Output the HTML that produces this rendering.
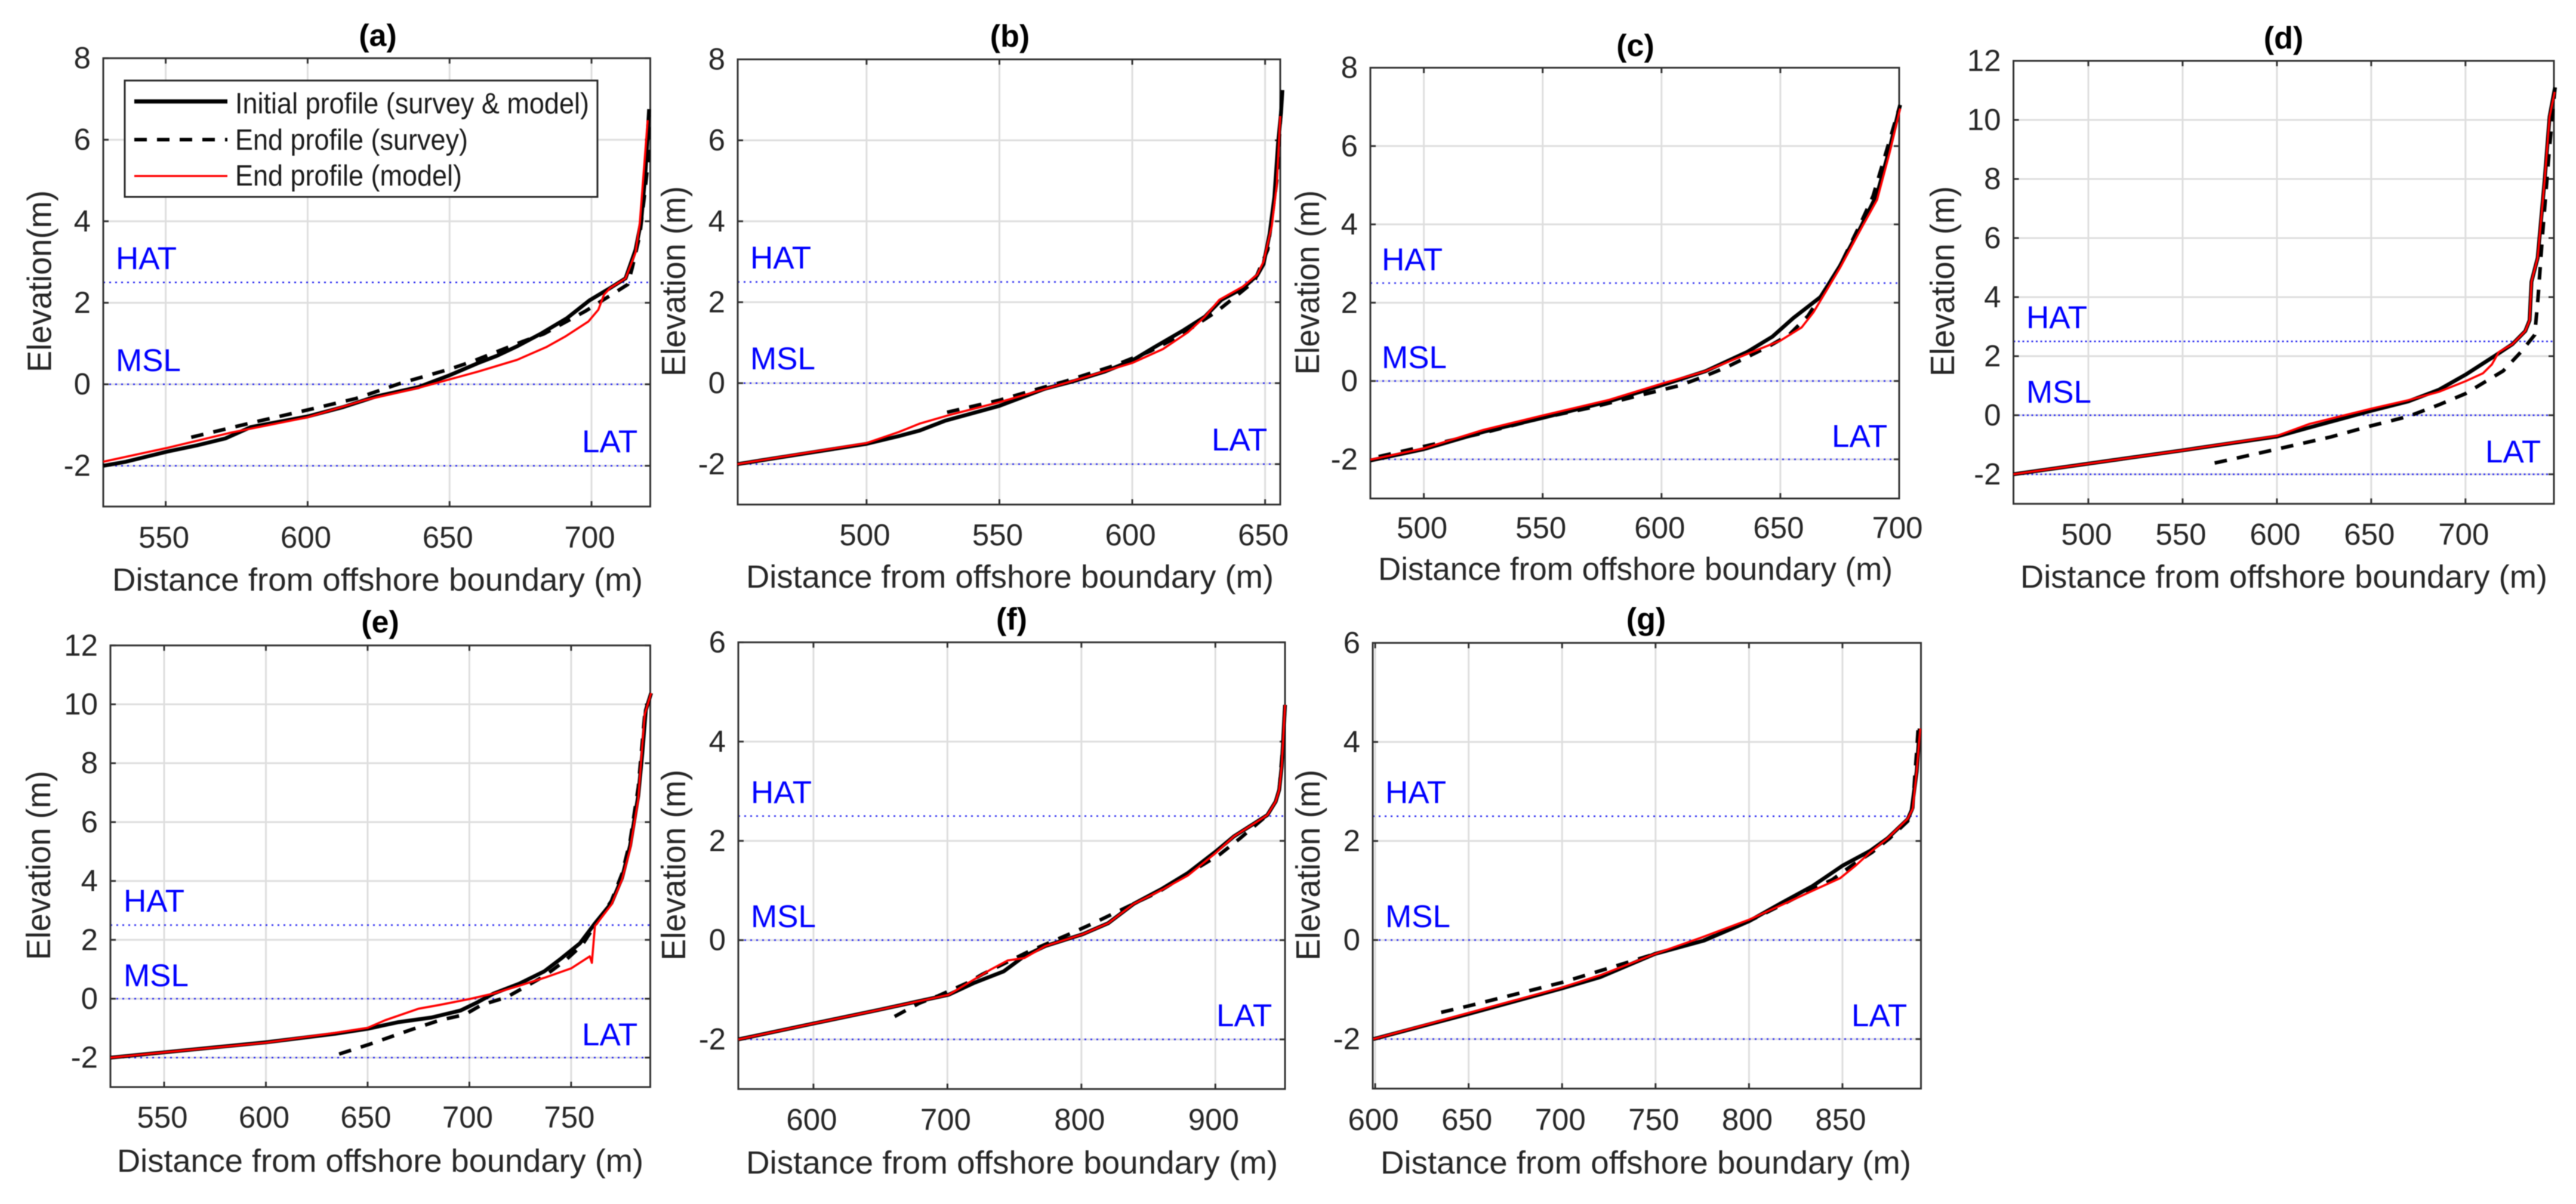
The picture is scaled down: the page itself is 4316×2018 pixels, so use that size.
<!DOCTYPE html>
<html lang="en">
<head>
<meta charset="utf-8">
<title>Beach profile comparison panels</title>
<style>
html,body{margin:0;padding:0;background:#fff;}
svg{display:block;filter:blur(0.8px);}
text{font-family:"Liberation Sans",Arial,sans-serif;fill:#262626;}
.title{font-size:52px;font-weight:bold;text-anchor:middle;fill:#000;}
.xlab{font-size:54px;}
.ylab{font-size:57px;}
.tide{font-size:53px;fill:#0000ff;}
.leg{font-size:49px;fill:#1a1a1a;}
.tick{font-size:51px;}
</style>
</head>
<body>
<svg xmlns="http://www.w3.org/2000/svg" width="4316" height="2018" viewBox="0 0 4316 2018">
<rect x="0" y="0" width="4316" height="2018" fill="#fff"/>
<g id="marks"></g>

<g>
<text class="title" x="633" y="77">(a)</text>
<text class="xlab" x="188" y="990" textLength="889" lengthAdjust="spacingAndGlyphs">Distance from offshore boundary (m)</text>
<text class="ylab" transform="translate(85.6,624) rotate(-90)" textLength="305" lengthAdjust="spacingAndGlyphs">Elevation(m)</text>
<text class="tide" x="194" y="451">HAT</text>
<text class="tide" x="194" y="622">MSL</text>
<text class="tide" x="975" y="758">LAT</text>
</g>
<g>
<text class="title" x="1692" y="78">(b)</text>
<text class="xlab" x="1250" y="985" textLength="884" lengthAdjust="spacingAndGlyphs">Distance from offshore boundary (m)</text>
<text class="ylab" transform="translate(1148,631) rotate(-90)" textLength="319" lengthAdjust="spacingAndGlyphs">Elevation (m)</text>
<text class="tide" x="1257" y="450">HAT</text>
<text class="tide" x="1257" y="619">MSL</text>
<text class="tide" x="2030" y="755">LAT</text>
</g>
<g>
<text class="title" x="2740" y="94">(c)</text>
<text class="xlab" x="2309" y="972" textLength="862" lengthAdjust="spacingAndGlyphs">Distance from offshore boundary (m)</text>
<text class="ylab" transform="translate(2210,628) rotate(-90)" textLength="309" lengthAdjust="spacingAndGlyphs">Elevation (m)</text>
<text class="tide" x="2315" y="453">HAT</text>
<text class="tide" x="2315" y="617">MSL</text>
<text class="tide" x="3069" y="749">LAT</text>
</g>
<g>
<text class="title" x="3826" y="81">(d)</text>
<text class="xlab" x="3385" y="985" textLength="883" lengthAdjust="spacingAndGlyphs">Distance from offshore boundary (m)</text>
<text class="ylab" transform="translate(3274,631) rotate(-90)" textLength="319" lengthAdjust="spacingAndGlyphs">Elevation (m)</text>
<text class="tide" x="3395" y="550">HAT</text>
<text class="tide" x="3395" y="675">MSL</text>
<text class="tide" x="4164" y="775">LAT</text>
</g>
<g>
<text class="title" x="637" y="1060">(e)</text>
<text class="xlab" x="196" y="1964" textLength="882" lengthAdjust="spacingAndGlyphs">Distance from offshore boundary (m)</text>
<text class="ylab" transform="translate(84,1609) rotate(-90)" textLength="317" lengthAdjust="spacingAndGlyphs">Elevation (m)</text>
<text class="tide" x="207" y="1528">HAT</text>
<text class="tide" x="207" y="1653">MSL</text>
<text class="tide" x="975" y="1752">LAT</text>
</g>
<g>
<text class="title" x="1695" y="1055">(f)</text>
<text class="xlab" x="1250" y="1967" textLength="891" lengthAdjust="spacingAndGlyphs">Distance from offshore boundary (m)</text>
<text class="ylab" transform="translate(1148,1610) rotate(-90)" textLength="320" lengthAdjust="spacingAndGlyphs">Elevation (m)</text>
<text class="tide" x="1258" y="1346">HAT</text>
<text class="tide" x="1258" y="1554">MSL</text>
<text class="tide" x="2038" y="1720">LAT</text>
</g>
<g>
<text class="title" x="2758" y="1055">(g)</text>
<text class="xlab" x="2313" y="1967" textLength="889" lengthAdjust="spacingAndGlyphs">Distance from offshore boundary (m)</text>
<text class="ylab" transform="translate(2211,1610) rotate(-90)" textLength="320" lengthAdjust="spacingAndGlyphs">Elevation (m)</text>
<text class="tide" x="2321" y="1346">HAT</text>
<text class="tide" x="2321" y="1554">MSL</text>
<text class="tide" x="3102" y="1720">LAT</text>
</g>

<g>
<rect x="209" y="135" width="792" height="195" fill="#fff" stroke="#262626" stroke-width="3"/>
<line x1="225" y1="170" x2="381" y2="170" stroke="#000" stroke-width="7"/>
<text class="leg" x="394" y="190" textLength="593" lengthAdjust="spacingAndGlyphs">Initial profile (survey &amp; model)</text>
<line x1="225" y1="234" x2="381" y2="234" stroke="#000" stroke-width="6" stroke-dasharray="21 17"/>
<text class="leg" x="394" y="251" textLength="390" lengthAdjust="spacingAndGlyphs">End profile (survey)</text>
<line x1="225" y1="295" x2="381" y2="295" stroke="#ff0000" stroke-width="3.5"/>
<text class="leg" x="394" y="311" textLength="380" lengthAdjust="spacingAndGlyphs">End profile (model)</text>
</g>
</svg>

<script>
// ---- shared tide levels (m) ----
const tideLevels = [2.5, 0, -2];

// ---- tick values ----
const aXTicks = [550, 600, 650, 700];
const bXTicks = [500, 550, 600, 650];
const cXTicks = [500, 550, 600, 650, 700];
const dXTicks = [500, 550, 600, 650, 700];
const eXTicks = [550, 600, 650, 700, 750];
const fXTicks = [600, 700, 800, 900];
const gXTicks = [600, 650, 700, 750, 800, 850];
const yTicksTo8 = [-2, 0, 2, 4, 6, 8];
const yTicksTo12 = [-2, 0, 2, 4, 6, 8, 10, 12];
const yTicksTo6 = [-2, 0, 2, 4, 6];

// ---- panel a ----
const aInitialX = [528, 536, 550.6, 561, 571, 580, 600, 612.5, 624, 639, 650, 660, 666.7, 674, 682.4, 691.3, 699.3, 706.5, 712, 715.5, 717.5, 719, 720.3];
const aInitialY = [-2, -1.9, -1.65, -1.5, -1.33, -1.05, -0.79, -0.56, -0.3, -0.07, 0.22, 0.52, 0.7, 0.94, 1.25, 1.62, 2.06, 2.36, 2.6, 3.3, 4, 5.2, 6.75];
const aSurveyX = [559, 583, 600, 617, 633, 650, 658, 675.8, 683.3, 698, 705.5, 712.8, 714.4, 717, 718.6, 720, 720.3];
const aSurveyY = [-1.3, -0.9, -0.63, -0.35, 0.03, 0.37, 0.56, 1.05, 1.24, 1.8, 2.13, 2.45, 2.87, 3.66, 4.6, 5.5, 6.6];
const aModelX = [528, 550.6, 572.7, 600, 620, 639, 650, 660, 673.8, 684, 690.7, 698.9, 702.4, 704.4, 706.5, 712, 715.5, 717, 718.4, 719.8];
const aModelY = [-1.9, -1.56, -1.19, -0.81, -0.39, -0.09, 0.12, 0.31, 0.6, 0.91, 1.17, 1.54, 1.83, 2.2, 2.36, 2.6, 3.23, 3.95, 5.22, 6.48];

// ---- panel b ----
const bInitialX = [451.4, 472.7, 500, 512, 520, 529.5, 550, 567, 578, 589.4, 600, 608.4, 619.4, 627.3, 633.6, 641.5, 647, 649.4, 651.7, 653.5, 654.9, 656, 656.5];
const bInitialY = [-2, -1.78, -1.5, -1.31, -1.17, -0.93, -0.56, -0.14, 0.05, 0.28, 0.56, 0.89, 1.31, 1.64, 2.06, 2.34, 2.66, 2.94, 3.69, 4.6, 5.93, 6.68, 7.24];
const bSurveyX = [530.3, 550, 565.8, 575, 592.6, 606.8, 617.8, 632, 640, 646, 651, 654.4, 655.4, 656.5];
const bSurveyY = [-0.72, -0.42, -0.12, 0.05, 0.42, 0.79, 1.17, 1.78, 2.2, 2.52, 3.3, 5, 6.12, 7.24];
const bModelX = [451.4, 472.7, 500, 512, 520, 531, 550, 567.4, 578.4, 600, 611.5, 621, 627.3, 632.8, 641.5, 647, 649.4, 652.5, 654.4, 655.7];
const bModelY = [-2, -1.77, -1.48, -1.21, -1, -0.79, -0.47, -0.14, 0.07, 0.5, 0.84, 1.26, 1.64, 2.06, 2.38, 2.68, 3, 3.88, 4.9, 6.6];

// ---- panel c ----
const cInitialX = [477.5, 500, 525, 550, 578, 600, 618.5, 636, 646.6, 655.5, 667, 675, 683.6, 690.7, 696, 700.4];
const cInitialY = [-2.03, -1.74, -1.3, -0.94, -0.52, -0.11, 0.25, 0.74, 1.13, 1.61, 2.15, 2.93, 3.9, 4.77, 5.94, 7.05];
const cSurveyX = [481, 502.3, 523.4, 550, 571, 590, 608, 617.6, 627.3, 645, 653.7, 661.6, 667.8, 675, 683.6, 689, 694, 700.4];
const cSurveyY = [-1.93, -1.64, -1.35, -0.94, -0.67, -0.38, -0.11, 0.11, 0.35, 0.88, 1.18, 1.66, 2.24, 2.93, 4, 4.72, 5.74, 7.05];
const cModelX = [477.5, 500, 525, 550, 578, 600, 618.5, 636, 650, 659, 664, 668.7, 675, 683.6, 690.7, 696, 700.4];
const cModelY = [-2.01, -1.72, -1.25, -0.88, -0.48, -0.07, 0.25, 0.69, 1.03, 1.37, 1.76, 2.24, 2.88, 3.85, 4.63, 5.84, 6.96];

// ---- panel d ----
const dInitialX = [460.3, 500, 550, 600, 617, 650, 669.7, 685.8, 700, 715.6, 724.8, 731.7, 734, 735, 738.3, 742, 744.6, 747.5];
const dInitialY = [-2, -1.64, -1.19, -0.72, -0.42, 0.15, 0.47, 0.86, 1.37, 2.01, 2.4, 2.85, 3.21, 4.52, 5.33, 7.97, 10.1, 11.1];
const dSurveyX = [567, 600, 628.4, 650, 669.7, 685.8, 700, 720, 729.4, 736.7, 738.5, 740.8, 744.3, 747.5];
const dSurveyY = [-1.62, -1.15, -0.74, -0.36, -0.04, 0.35, 0.73, 1.5, 2.14, 2.72, 4, 6.05, 8.87, 11.1];
const dModelX = [460.3, 500, 550, 600, 617, 650, 669.7, 685.8, 700, 709.3, 714, 717.7, 724.8, 731.7, 734, 735, 738.3, 742, 744.6, 747.3];
const dModelY = [-2, -1.64, -1.19, -0.7, -0.3, 0.22, 0.51, 0.79, 1.15, 1.42, 1.72, 2.14, 2.4, 2.85, 3.21, 4.52, 5.33, 7.97, 10.1, 10.95];

// ---- panel e ----
const eInitialX = [523.7, 550, 600, 634, 650, 664.8, 681.3, 695.7, 704, 712, 724.5, 736.8, 745, 754.3, 761.5, 769.8, 775, 779, 783, 785, 786.7, 789.3];
const eInitialY = [-2, -1.82, -1.48, -1.19, -1.02, -0.8, -0.64, -0.4, -0.12, 0.18, 0.51, 0.93, 1.36, 1.88, 2.54, 3.25, 4.1, 5.2, 6.9, 8.35, 9.8, 10.38];
const eSurveyX = [636, 650.4, 671, 685.4, 697.7, 706, 718.3, 736.8, 747, 755.4, 761.5, 769.8, 775, 779, 783, 786.2, 789.3];
const eSurveyY = [-1.88, -1.56, -1.06, -0.73, -0.54, -0.21, 0.05, 0.77, 1.29, 1.82, 2.47, 3.32, 4.24, 5.35, 7.18, 9.66, 10.38];
const eModelX = [523.7, 550, 600, 634, 650, 658.6, 675, 685.4, 700, 712, 724.5, 736.8, 750, 759.2, 760.2, 760.5, 761.7, 769.8, 775, 779, 783, 784.7, 786.2, 789.3];
const eModelY = [-2, -1.82, -1.49, -1.16, -0.99, -0.73, -0.34, -0.21, -0.01, 0.18, 0.44, 0.71, 1.03, 1.44, 1.22, 1.48, 2.47, 3.2, 4.04, 5.08, 6.78, 8.35, 9.66, 10.38];

// ---- panel f ----
const fInitialX = [544, 600, 648, 701, 720, 742, 757.5, 773, 801, 820, 839, 860.6, 879.4, 900, 913.8, 938.8, 945, 947.7, 949.5, 950.5, 952];
const fInitialY = [-2, -1.68, -1.41, -1.1, -0.86, -0.63, -0.32, -0.12, 0.12, 0.34, 0.73, 1.04, 1.35, 1.78, 2.09, 2.52, 2.79, 3.03, 3.5, 3.96, 4.74];
const fSurveyX = [660.6, 679, 693.4, 715, 726, 760.6, 778, 793.4, 809, 825, 842, 857.5, 876, 903, 918.4, 938.8, 945, 947.7, 950.5, 952];
const fSurveyY = [-1.54, -1.27, -1.12, -0.86, -0.69, -0.23, -0.03, 0.15, 0.34, 0.55, 0.77, 0.97, 1.28, 1.72, 2.05, 2.52, 2.79, 3.03, 3.96, 4.74];
const fModelX = [544, 600, 648, 701, 720, 732.5, 745, 757.5, 773, 801, 820, 839, 860.6, 879.4, 900, 913.8, 938.8, 945, 947.7, 949.5, 950.5, 952];
const fModelY = [-2, -1.68, -1.41, -1.1, -0.79, -0.59, -0.41, -0.36, -0.12, 0.12, 0.34, 0.73, 1.02, 1.3, 1.75, 2.09, 2.52, 2.79, 3.03, 3.5, 3.96, 4.74];

// ---- panel g ----
const gInitialX = [599, 650, 699.6, 720.4, 749.7, 776, 800, 817, 834, 850, 864.8, 874.3, 884.9, 887, 889.7, 891.3];
const gInitialY = [-2, -1.49, -0.98, -0.75, -0.28, -0.01, 0.38, 0.74, 1.09, 1.5, 1.8, 2.06, 2.44, 2.62, 3.4, 4.27];
const gSurveyX = [635.3, 650, 673.4, 699.6, 724.8, 749.7, 776, 800, 817, 834, 844.6, 855.2, 865.8, 875.4, 884.9, 887.6, 888.7, 889.7, 890.5];
const gSurveyY = [-1.46, -1.33, -1.11, -0.86, -0.57, -0.28, 0, 0.38, 0.7, 1.03, 1.22, 1.51, 1.77, 2.06, 2.4, 2.67, 3.3, 3.8, 4.27];
const gModelX = [599, 650, 699.6, 720.4, 749.7, 774.5, 800, 817, 836, 848.8, 857.3, 864.8, 874.3, 884.9, 887.6, 889.7, 891.6];
const gModelY = [-2, -1.47, -0.96, -0.71, -0.28, 0.05, 0.41, 0.7, 1.03, 1.25, 1.51, 1.77, 2.06, 2.45, 2.65, 3.4, 4.27];

// ---- drawing ----
const NS = 'http://www.w3.org/2000/svg';
const layer = document.getElementById('marks');

function make(tag, attrs, parent) {
  const el = document.createElementNS(NS, tag);
  for (const k in attrs) el.setAttribute(k, attrs[k]);
  parent.appendChild(el);
  return el;
}

function drawPanel(p) {
  const sx = v => p.left + (v - p.xMin) / (p.xMax - p.xMin) * (p.right - p.left);
  const sy = v => p.bottom - (v - p.yMin) / (p.yMax - p.yMin) * (p.bottom - p.top);

  const g = make('g', {}, layer);
  
  

  p.xTicks.forEach(t => {
    const grid = make('line', {x1: sx(t), x2: sx(t), y1: p.top, y2: p.bottom, stroke: '#dedede', 'stroke-width': 3}, g);
    
    
  });
  p.yTicks.forEach(t => {
    const grid = make('line', {x1: p.left, x2: p.right, y1: sy(t), y2: sy(t), stroke: '#dedede', 'stroke-width': 3}, g);
    
    
  });

  tideLevels.forEach(level => {
    const tide = make('line', {x1: p.left, x2: p.right, y1: sy(level), y2: sy(level), stroke: '#2a2af0', 'stroke-width': 2.6, 'stroke-dasharray': '3 ' + p.dotGap}, g);
    
    
  });

  const frame = make('rect', {x: p.left, y: p.top, width: p.right - p.left, height: p.bottom - p.top, fill: 'none', stroke: '#303030', 'stroke-width': 3}, g);
  
  

  p.xTicks.forEach(t => {
    const low = make('line', {x1: sx(t), x2: sx(t), y1: p.bottom, y2: p.bottom - 9, stroke: '#303030', 'stroke-width': 3}, g);
    
    
    const high = make('line', {x1: sx(t), x2: sx(t), y1: p.top, y2: p.top + 9, stroke: '#303030', 'stroke-width': 3}, g);
    
    
    const label = make('text', {x: sx(t) - 3, y: p.xTickBase, 'text-anchor': 'middle', class: 'tick'}, g);
    
    
    label.textContent = String(t);
  });
  p.yTicks.forEach(t => {
    const low = make('line', {x1: p.left, x2: p.left + 9, y1: sy(t), y2: sy(t), stroke: '#303030', 'stroke-width': 3}, g);
    
    
    const high = make('line', {x1: p.right, x2: p.right - 9, y1: sy(t), y2: sy(t), stroke: '#303030', 'stroke-width': 3}, g);
    
    
    const label = make('text', {x: p.left - 21, y: sy(t) + 17, 'text-anchor': 'end', class: 'tick'}, g);
    
    
    label.textContent = String(t);
  });

  const toPoints = (xs, ys) => xs.map((x, i) => sx(x).toFixed(1) + ',' + sy(ys[i]).toFixed(1)).join(' ');

  const initial = make('polyline', {points: toPoints(p.initialX, p.initialY), fill: 'none', stroke: '#000', 'stroke-width': 6.5, 'stroke-linejoin': 'round'}, g);
  
  

  const survey = make('polyline', {points: toPoints(p.surveyX, p.surveyY), fill: 'none', stroke: '#000', 'stroke-width': 6, 'stroke-dasharray': '21 17', 'stroke-linejoin': 'round'}, g);
  
  

  const model = make('polyline', {points: toPoints(p.modelX, p.modelY), fill: 'none', stroke: '#ff0000', 'stroke-width': 3.6, 'stroke-linejoin': 'round'}, g);
  
  
}

drawPanel({id:'a', left:173, right:1089.5, top:97.6, bottom:849, xMin:528, xMax:720.7, yMin:-3, yMax:8, xTicks:aXTicks, yTicks:yTicksTo8, xTickBase:918, dotGap:7, initialX:aInitialX, initialY:aInitialY, surveyX:aSurveyX, surveyY:aSurveyY, modelX:aModelX, modelY:aModelY});
drawPanel({id:'b', left:1236, right:2145, top:99.5, bottom:845.7, xMin:451.5, xMax:655.7, yMin:-3, yMax:8, xTicks:bXTicks, yTicks:yTicksTo8, xTickBase:914, dotGap:7, initialX:bInitialX, initialY:bInitialY, surveyX:bSurveyX, surveyY:bSurveyY, modelX:bModelX, modelY:bModelY});
drawPanel({id:'c', left:2296, right:3182, top:113.5, bottom:835.5, xMin:477.5, xMax:700, yMin:-3, yMax:8, xTicks:cXTicks, yTicks:yTicksTo8, xTickBase:902, dotGap:7, initialX:cInitialX, initialY:cInitialY, surveyX:cSurveyX, surveyY:cSurveyY, modelX:cModelX, modelY:cModelY});
drawPanel({id:'d', left:3373.5, right:4279, top:102, bottom:844.4, xMin:460.3, xMax:746.9, yMin:-3, yMax:12, xTicks:dXTicks, yTicks:yTicksTo12, xTickBase:913, dotGap:4.5, initialX:dInitialX, initialY:dInitialY, surveyX:dSurveyX, surveyY:dSurveyY, modelX:dModelX, modelY:dModelY});
drawPanel({id:'e', left:185, right:1089.5, top:1081.8, bottom:1822, xMin:523.6, xMax:788.9, yMin:-3, yMax:12, xTicks:eXTicks, yTicks:yTicksTo12, xTickBase:1890, dotGap:7, initialX:eInitialX, initialY:eInitialY, surveyX:eSurveyX, surveyY:eSurveyY, modelX:eModelX, modelY:eModelY});
drawPanel({id:'f', left:1237, right:2153, top:1076.6, bottom:1825.3, xMin:543.9, xMax:952, yMin:-3, yMax:6, xTicks:fXTicks, yTicks:yTicksTo6, xTickBase:1894, dotGap:7, initialX:fInitialX, initialY:fInitialY, surveyX:fSurveyX, surveyY:fSurveyY, modelX:fModelX, modelY:fModelY});
drawPanel({id:'g', left:2300, right:3218.5, top:1077.5, bottom:1824.6, xMin:598.7, xMax:892, yMin:-3, yMax:6, xTicks:gXTicks, yTicks:yTicksTo6, xTickBase:1894, dotGap:7, initialX:gInitialX, initialY:gInitialY, surveyX:gSurveyX, surveyY:gSurveyY, modelX:gModelX, modelY:gModelY});
</script>
</body>
</html>
